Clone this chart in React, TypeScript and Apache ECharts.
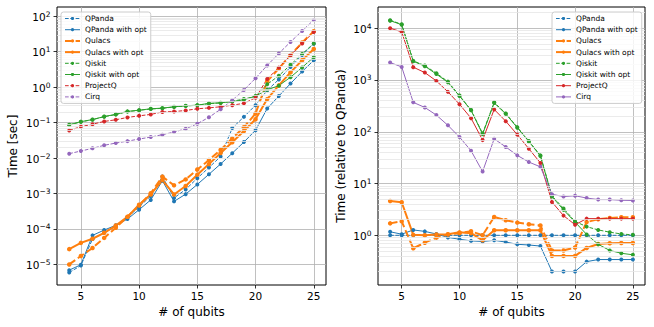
import React, { useEffect, useRef } from "react";
import * as echarts from "echarts";

// ---------------- data ----------------
const qubits = [4, 5, 6, 7, 8, 9, 10, 11, 12, 13, 14, 15, 16, 17, 18, 19, 20, 21, 22, 23, 24, 25];

const names = ["QPanda", "QPanda with opt", "Qulacs", "Qulacs with opt", "Qiskit", "Qiskit with opt", "ProjectQ", "Cirq"];

// left: absolute time [sec]
const timeQPanda = [5.9e-6, 9.3e-6, 5.2e-5, 7.8e-5, 1.2e-4, 2.1e-4, 4.2e-4, 8.5e-4, 3.0e-3, 7.5e-4, 1.3e-3, 2.7e-3, 5.4e-3, 0.011, 0.07, 0.145, 0.31, 0.81, 1.65, 3.7, 8.1, 16.8];
const timeQPandaOpt = [6.9e-6, 9.8e-6, 6.6e-5, 9.3e-5, 1.27e-4, 1.9e-4, 3.5e-4, 6.6e-4, 2.3e-3, 6.0e-4, 9.6e-4, 1.8e-3, 3.5e-3, 6.8e-3, 0.0137, 0.0282, 0.061, 0.25, 0.56, 1.26, 2.75, 5.7];
const timeQulacs = [1.0e-5, 1.73e-5, 2.9e-5, 5.6e-5, 1.08e-4, 2.2e-4, 4.6e-4, 1.02e-3, 3.0e-3, 1.7e-3, 2.5e-3, 4.75e-3, 8.8e-3, 0.017, 0.036, 0.074, 0.18, 1.46, 3.37, 8.0, 18.1, 37.6];
const timeQulacsOpt = [2.7e-5, 4.05e-5, 5.3e-5, 7.8e-5, 1.25e-4, 2.2e-4, 4.8e-4, 9.4e-4, 2.4e-3, 9.4e-4, 1.63e-3, 3.4e-3, 6.75e-3, 0.0138, 0.028, 0.058, 0.124, 0.46, 1.12, 2.6, 5.75, 11.9];
const timeQiskit = [0.0855, 0.105, 0.121, 0.147, 0.168, 0.204, 0.222, 0.242, 0.253, 0.276, 0.294, 0.308, 0.343, 0.358, 0.4, 0.46, 0.55, 1.2, 2.1, 4.25, 8.6, 17.1];
const timeQiskitOpt = [0.087, 0.106, 0.122, 0.148, 0.171, 0.207, 0.224, 0.245, 0.256, 0.279, 0.297, 0.311, 0.348, 0.362, 0.39, 0.44, 0.56, 0.84, 1.1, 1.9, 3.6, 7.0];
const timeProjectQ = [0.06, 0.077, 0.09, 0.108, 0.12, 0.14, 0.155, 0.17, 0.2, 0.205, 0.22, 0.245, 0.26, 0.28, 0.31, 0.35, 0.5, 1.7, 3.55, 7.9, 17, 36];
const timeCirq = [0.0133, 0.0158, 0.0188, 0.0229, 0.0265, 0.03, 0.0344, 0.039, 0.0457, 0.054, 0.067, 0.093, 0.141, 0.237, 0.426, 0.83, 1.78, 4.1, 8.9, 18.8, 38.5, 78.7];

// right: time relative to QPanda
const relQPanda = [1, 1, 1, 1, 1, 1, 1, 1, 1, 1, 1, 1, 1, 1, 1, 1, 1, 1, 1, 1, 1, 1];
const relQPandaOpt = [1.17, 1.05, 1.27, 1.19, 1.06, 0.91, 0.84, 0.78, 0.76, 0.8, 0.74, 0.67, 0.65, 0.62, 0.2, 0.2, 0.2, 0.31, 0.34, 0.34, 0.34, 0.34];
const relQulacs = [1.7, 1.86, 0.56, 0.72, 0.9, 1.04, 1.1, 1.2, 1.0, 2.26, 1.95, 1.76, 1.63, 1.55, 0.51, 0.51, 0.58, 1.8, 2.04, 2.16, 2.24, 2.24];
const relQulacsOpt = [4.6, 4.35, 1.02, 1.0, 1.04, 1.05, 1.14, 1.1, 0.8, 1.25, 1.25, 1.25, 1.25, 1.25, 0.4, 0.4, 0.4, 0.57, 0.68, 0.7, 0.71, 0.71];
const relQiskit = [14300, 11900, 2340, 1900, 1350, 930, 500, 263, 93, 370, 226, 123, 66, 35, 5.8, 3.3, 1.85, 1.47, 1.27, 1.15, 1.06, 1.02];
const relQiskitOpt = [14000, 11700, 2300, 1850, 1300, 900, 490, 260, 90, 360, 222, 120, 65, 34, 5.6, 3.1, 1.8, 1.04, 0.67, 0.51, 0.45, 0.42];
const relProjectQ = [10000, 8500, 1770, 1390, 960, 590, 340, 183, 69, 270, 160, 88, 47, 25, 4.4, 2.4, 1.6, 2.1, 2.1, 2.1, 2.1, 2.1];
const relCirq = [2170, 1790, 370, 295, 210, 133, 79, 43, 17, 73, 51, 35, 26, 21, 6.2, 5.6, 5.8, 5.25, 4.9, 4.9, 4.75, 4.7];

const xTicks = [5, 10, 15, 20, 25];
const yTicksLeft = [1e-5, 1e-4, 1e-3, 1e-2, 1e-1, 1, 10, 100];
const yTicksRight = [1, 10, 100, 1000, 10000];

const leftValues = [timeQPanda, timeQPandaOpt, timeQulacs, timeQulacsOpt, timeQiskit, timeQiskitOpt, timeProjectQ, timeCirq];
const rightValues = [relQPanda, relQPandaOpt, relQulacs, relQulacsOpt, relQiskit, relQiskitOpt, relProjectQ, relCirq];

// ---------------- styles ----------------
const FONT = "DejaVu Sans";
const BLUE = "#1f77b4";
const ORANGE = "#ff7f0e";
const GREEN = "#2ca02c";
const RED = "#d62728";
const PURPLE = "#9467bd";
const DASH_THIN = [3.7, 1.6];
const DASH_THICK = [7.4, 3.2];

type St = { c: string; dash: boolean; w: number; s: number };
const leftStyles: St[] = [
  { c: BLUE, dash: true, w: 1, s: 4 },
  { c: BLUE, dash: false, w: 1, s: 4 },
  { c: ORANGE, dash: true, w: 2, s: 4.5 },
  { c: ORANGE, dash: false, w: 2, s: 4.5 },
  { c: GREEN, dash: true, w: 1, s: 4 },
  { c: GREEN, dash: false, w: 1, s: 4 },
  { c: RED, dash: true, w: 1, s: 4 },
  { c: PURPLE, dash: true, w: 1, s: 4 },
];
const rightStyles: St[] = leftStyles.map((s, i) => (i >= 6 ? { ...s, dash: false } : s));

const LEFT_MIN = Math.pow(10, -5.58);
const LEFT_MAX = Math.pow(10, 2.26);
const RIGHT_MIN = Math.pow(10, -0.96);
const RIGHT_MAX = Math.pow(10, 4.41);

function minorValues(lo: number, hi: number) {
  const out: number[] = [];
  for (let e = -8; e <= 6; e++) {
    for (let k = 2; k <= 9; k++) {
      const v = k * Math.pow(10, e);
      if (v > lo && v < hi) out.push(v);
    }
  }
  return out;
}

const sup = (e: number) => (e < 0 ? "\u2212" + -e : String(e));
const powFmt = (v: number) => {
  const l = Math.log10(v);
  const e = Math.round(l);
  if (Math.abs(l - e) > 1e-6) return "";
  return `{b|10}{s|${sup(e)}}`;
};

const richPow = {
  b: { fontSize: 10.5, fontFamily: FONT, color: "#000", lineHeight: 12, padding: [3, 0, 0, 0], verticalAlign: "bottom" },
  s: { fontSize: 7.5, fontFamily: FONT, color: "#000", lineHeight: 8, verticalAlign: "top" },
};

function dashOf(s: St) {
  return s.dash ? (s.w > 1 ? DASH_THICK : DASH_THIN) : "solid";
}

function makeSeries(values: number[][], styles: St[], gi: number) {
  return values.map((vals, i) => ({
    type: "line",
    name: names[i],
    xAxisIndex: gi,
    yAxisIndex: gi,
    data: qubits.map((q, j) => [q, vals[j]]),
    symbol: "circle",
    symbolSize: styles[i].s,
    showSymbol: true,
    lineStyle: { color: styles[i].c, width: styles[i].w, type: dashOf(styles[i]) },
    itemStyle: { color: styles[i].c, borderWidth: 0 },
    emphasis: { disabled: true },
    z: 3,
  }));
}

function minorSeries(gi: number, lo: number, hi: number) {
  return {
    type: "line",
    name: "__minor" + gi,
    xAxisIndex: gi,
    yAxisIndex: gi,
    data: [],
    silent: true,
    z: 1,
    markLine: {
      silent: true,
      symbol: "none",
      label: { show: false },
      animation: false,
      lineStyle: { color: "#e6e6e6", width: 0.8, type: "solid" },
      emphasis: { disabled: true },
      data: minorValues(lo, hi).map((v) => ({ yAxis: v })),
    },
  };
}

function legendOf(styles: St[], left: number) {
  return {
    orient: "vertical",
    left,
    top: 12,
    itemWidth: 15,
    itemHeight: 4,
    itemGap: 2.2,
    padding: [2, 4, 2, 3],
    backgroundColor: "rgba(255,255,255,0.8)",
    borderColor: "#cccccc",
    borderWidth: 1,
    borderRadius: 2.5,
    selectedMode: false,
    textStyle: { fontSize: 7.5, fontFamily: FONT, color: "#000", lineHeight: 9 },
    data: names.map((n, i) => ({
      name: n,
      lineStyle: { width: styles[i].w, type: dashOf(styles[i]), color: styles[i].c },
      itemStyle: { color: styles[i].c, borderWidth: 0 },
    })),
    z: 10,
  };
}

function xAxisOf(gi: number) {
  return {
    type: "value",
    gridIndex: gi,
    min: 2.95,
    max: 26.05,
    axisLine: { show: false },
    axisTick: { show: true, length: 3.5, customValues: xTicks, lineStyle: { color: "#000", width: 0.8 } },
    axisLabel: { customValues: xTicks, fontSize: 10.5, fontFamily: FONT, color: "#000", margin: 5 },
    splitLine: { show: true, lineStyle: { color: "#b0b0b0", width: 0.8 } },
    name: "# of qubits",
    nameLocation: "middle",
    nameGap: 18,
    nameTextStyle: { fontSize: 12, fontFamily: FONT, color: "#000" },
  };
}

function yAxisOf(gi: number, min: number, max: number, ticks: number[], name: string, nameGap: number) {
  return {
    type: "log",
    logBase: 10,
    gridIndex: gi,
    min,
    max,
    axisLine: { show: false },
    axisTick: { show: true, length: 3.5, customValues: ticks, lineStyle: { color: "#000", width: 0.8 } },
    axisLabel: { customValues: ticks, formatter: powFmt, rich: richPow, margin: 6.5 },
    splitLine: { show: true, lineStyle: { color: "#b0b0b0", width: 0.8 } },
    name,
    nameLocation: "middle",
    nameGap,
    nameTextStyle: { fontSize: 12, fontFamily: FONT, color: "#000" },
  };
}

export default function App() {
  const ref = useRef<HTMLDivElement>(null);
  useEffect(() => {
    if (!ref.current) return;
    const chart = echarts.init(ref.current, null, { renderer: "svg" });
    const option: any = {
      animation: false,
      backgroundColor: "#fff",
      textStyle: { fontFamily: FONT },
      grid: [
        { left: 57, top: 7, width: 269, height: 278, show: true, borderColor: "#000", borderWidth: 1, backgroundColor: "#fff" },
        { left: 378, top: 7, width: 267, height: 278, show: true, borderColor: "#000", borderWidth: 1, backgroundColor: "#fff" },
      ],
      xAxis: [xAxisOf(0), xAxisOf(1)],
      yAxis: [
        yAxisOf(0, LEFT_MIN, LEFT_MAX, yTicksLeft, "Time [sec]", 38),
        yAxisOf(1, RIGHT_MIN, RIGHT_MAX, yTicksRight, "Time (relative to QPanda)", 31),
      ],
      legend: [legendOf(leftStyles, 61), legendOf(rightStyles, 552)],
      series: [
        minorSeries(0, LEFT_MIN, LEFT_MAX),
        minorSeries(1, RIGHT_MIN, RIGHT_MAX),
        ...makeSeries(leftValues, leftStyles, 0),
        ...makeSeries(rightValues, rightStyles, 1),
      ],
    };
    chart.setOption(option);
    return () => chart.dispose();
  }, []);
  return <div ref={ref} style={{ position: "absolute", left: 0, top: 0, width: 654, height: 327 }} />;
}
